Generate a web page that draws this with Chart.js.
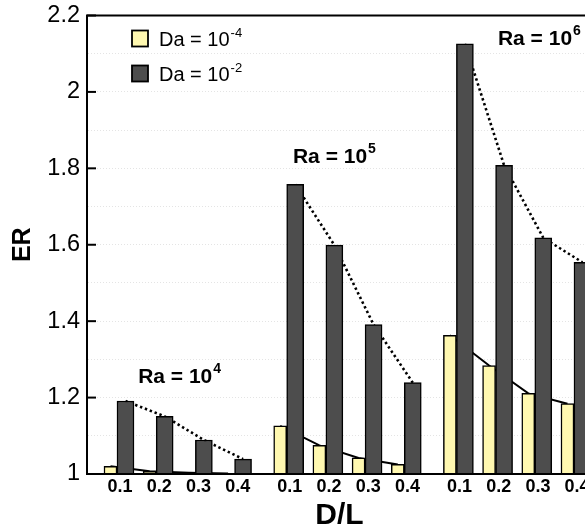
<!DOCTYPE html>
<html>
<head>
<meta charset="utf-8">
<script src="https://cdn.jsdelivr.net/npm/chart.js@4/dist/chart.umd.min.js"></script>
<style>
  html, body { margin: 0; padding: 0; background: #fff; overflow: hidden; }
  #wrap { width: 585px; height: 528px; overflow: hidden; position: relative; }
  #box { width: 600px; height: 528px; }
</style>
</head>
<body>
<div id="wrap"><div id="box"><canvas id="erChart"></canvas></div></div>
<script>
// ---- data ----
const raExponents = ["4", "5", "6"];            // Ra = 10^4, 10^5, 10^6
const dlLabels = ["0.1", "0.2", "0.3", "0.4"];  // D/L within each Ra group
const erDaLow = [1.020, 1.007, 1.003, 1.001,     // Da = 10^-4
                 1.126, 1.075, 1.042, 1.025,
                 1.363, 1.284, 1.211, 1.184];
const erDaHigh = [1.191, 1.151, 1.089, 1.039,    // Da = 10^-2
                  1.758, 1.599, 1.391, 1.239,
                  2.126, 1.808, 1.618, 1.554];
const yTicks = [1, 1.2, 1.4, 1.6, 1.8, 2, 2.2];

const GROUP_GAP = 0.33;
const slot = (g, i) => g * (dlLabels.length + GROUP_GAP) + i;

const xPos = [];
raExponents.forEach((_, g) => dlLabels.forEach((_, i) => xPos.push(slot(g, i))));
const toPoints = arr => arr.map((v, k) => ({ x: xPos[k], y: v }));

const FONT = "'Liberation Sans', Arial, Helvetica, sans-serif";

/* ---- lines joining the bar tops inside each Ra group (behind the bars) ---- */
const joinLines = {
  id: "joinLines",
  beforeDatasetsDraw(chart) {
    const ctx = chart.ctx;
    const styles = [
      { width: 2, dash: [] },
      { width: 2.6, dash: [2.4, 2.8] }
    ];
    styles.forEach((st, d) => {
      const bars = chart.getDatasetMeta(d).data;
      ctx.save();
      ctx.strokeStyle = "#000";
      ctx.lineWidth = st.width;
      ctx.setLineDash(st.dash);
      raExponents.forEach((_, g) => {
        ctx.beginPath();
        dlLabels.forEach((_, i) => {
          const b = bars[g * dlLabels.length + i];
          if (i === 0) ctx.moveTo(b.x, b.y); else ctx.lineTo(b.x, b.y);
        });
        ctx.stroke();
      });
      ctx.restore();
    });
  }
};

/* ---- frame top, inner ticks, legend and Ra labels ---- */
function supText(ctx, base, sup, x, y, font, supFont, rise) {
  ctx.font = font;
  ctx.fillText(base, x, y);
  const w = ctx.measureText(base).width;
  ctx.font = supFont;
  ctx.fillText(sup, x + w + 1, y - rise);
}

const decorations = {
  id: "decorations",
  afterDraw(chart) {
    const { ctx, chartArea: a, scales } = chart;
    ctx.save();
    ctx.strokeStyle = "#000";
    ctx.lineWidth = 2;
    ctx.beginPath();
    ctx.moveTo(a.left - 1, a.top);
    ctx.lineTo(a.right, a.top);
    ctx.stroke();
    // inward tick marks
    yTicks.forEach(v => {
      const py = scales.y.getPixelForValue(v);
      ctx.beginPath();
      ctx.moveTo(a.left, py);
      ctx.lineTo(a.left + 9, py);
      ctx.stroke();
    });

    // legend
    ctx.fillStyle = "#000";
    ctx.textBaseline = "alphabetic";
    ctx.textAlign = "left";
    const legend = [
      { fill: "#fff8b0", sup: "-4" },
      { fill: "#4d4d4d", sup: "-2" }
    ];
    legend.forEach((item, k) => {
      const bx = a.left + 45, by = a.top + 15 + k * 35;
      ctx.fillStyle = item.fill;
      ctx.fillRect(bx, by, 16, 16);
      ctx.lineWidth = 1.8;
      ctx.strokeRect(bx, by, 16, 16);
      ctx.fillStyle = "#000";
      supText(ctx, "Da = 10", item.sup, bx + 27, by + 15,
        "20px " + FONT, "13px " + FONT, 9);
    });

    // Ra group labels
    const raAnchor = [
      { x: 0.54, y: 1.237 },
      { x: 4.49, y: 1.814 },
      { x: 9.72, y: 2.123 }
    ];
    raExponents.forEach((e, g) => {
      const px = scales.x.getPixelForValue(raAnchor[g].x);
      const py = scales.y.getPixelForValue(raAnchor[g].y);
      supText(ctx, "Ra = 10", e, px, py,
        "bold 21px " + FONT, "bold 14px " + FONT, 10);
    });
    ctx.restore();
  }
};

const ctx = document.getElementById("erChart");
new Chart(ctx, {
  type: "bar",
  data: {
    datasets: [{
      label: "Da = 10^-4",
      data: toPoints(erDaLow),
      backgroundColor: "#fff8b0",
      borderColor: "#000",
      borderWidth: 1.5,
      barThickness: 13
    }, {
      label: "Da = 10^-2",
      data: toPoints(erDaHigh),
      backgroundColor: "#4d4d4d",
      borderColor: "#000",
      borderWidth: 1.5,
      barThickness: 17
    }]
  },
  options: {
    responsive: true,
    maintainAspectRatio: false,
    animation: false,
    layout: { padding: { top: 15.5, right: 8, left: 0, bottom: 0 } },
    plugins: { legend: { display: false }, tooltip: { enabled: false } },
    scales: {
      x: {
        type: "linear",
        min: -0.765,
        max: 12.12,
        offset: false,
        grid: { display: false, offset: false, drawTicks: false },
        border: { display: true, color: "#000", width: 2, z: 1 },
        afterBuildTicks: scale => {
          scale.ticks = xPos.map(v => ({ value: v + 0.08 }));
        },
        afterFit: scale => { scale.height = 54; },
        ticks: {
          autoSkip: false,
          maxRotation: 0,
          padding: 2,
          color: "#000",
          font: { family: FONT, size: 18, weight: "bold" },
          callback: (v, i) => dlLabels[i % dlLabels.length]
        },
        title: {
          display: true,
          text: "D/L",
          color: "#000",
          padding: 0,
          font: { family: FONT, size: 30, weight: "bold", lineHeight: 0.8 }
        }
      },
      y: {
        min: 1,
        max: 2.2,
        beginAtZero: false,
        grid: { color: "#e4e4e4", lineWidth: 1, drawTicks: false },
        border: { display: true, color: "#000", width: 2, z: 1, dash: [1, 2] },
        afterFit: scale => { scale.width = 87; },
        ticks: {
          stepSize: 0.1,
          padding: 7,
          color: "#000",
          font: { family: FONT, size: 23.5, lineHeight: 0.6 },
          callback: v => {
            const t = Math.round(v * 10);
            return t % 2 === 0 ? String(t / 10) : "";
          }
        },
        title: {
          display: true,
          text: "ER",
          color: "#000",
          padding: { top: 11 },
          font: { family: FONT, size: 25, weight: "bold", lineHeight: 1 }
        }
      }
    }
  },
  plugins: [joinLines, decorations]
});
</script>
</body>
</html>
